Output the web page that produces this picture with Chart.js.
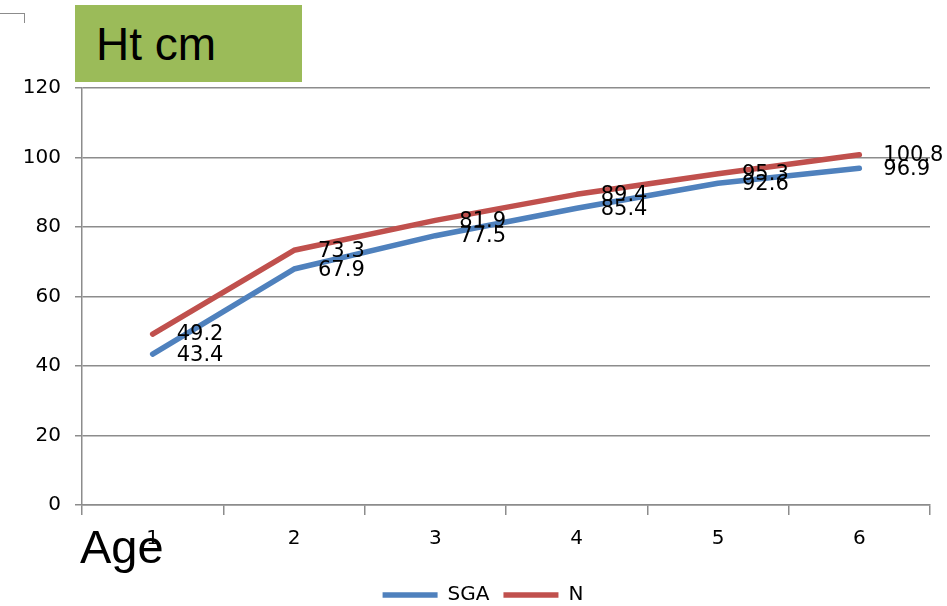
<!DOCTYPE html>
<html>
<head>
<meta charset="utf-8">
<script src="https://cdn.jsdelivr.net/npm/chart.js@4/dist/chart.umd.min.js"></script>
<style>
  html, body { margin: 0; padding: 0; background: #fff; }
  #wrap { position: relative; width: 947px; height: 606px; }
  #chart { position: absolute; left: 0; top: 0; }
  #title {
    position: absolute; left: 75px; top: 5px; width: 227px; height: 77px;
    background: #9BBB59; box-sizing: border-box; padding-left: 21px;
    font-family: "Liberation Sans", Arial, sans-serif; font-size: 46px;
    line-height: 79px; color: #000;
  }
  #age {
    position: absolute; left: 80px; top: 520px;
    font-family: "Liberation Sans", Arial, sans-serif; font-size: 47px;
    line-height: 54px; color: #000;
  }
  #corner {
    position: absolute; left: 0; top: 13px; width: 24px; height: 9px;
    border-top: 1.5px solid #8c8c8c; border-right: 1.5px solid #8c8c8c;
  }
</style>
</head>
<body>
<div id="wrap">
  <canvas id="chart" width="947" height="606"></canvas>
  <div id="corner"></div>
  <div id="title">Ht cm</div>
  <div id="age">Age</div>
</div>
<script>
// Height (cm) by age
const ages = ['1', '2', '3', '4', '5', '6'];
const sgaHeight = [43.4, 67.9, 77.5, 85.4, 92.6, 96.9];
const nHeight = [49.2, 73.3, 81.9, 89.4, 95.3, 100.8];
const yTicks = [0, 20, 40, 60, 80, 100, 120];

const FONT = '"DejaVu Sans", sans-serif';
const GRID = '#8c8c8c';

// Writes each point's value to the right of the point
const valueLabels = {
  id: 'valueLabels',
  afterDatasetsDraw(chart) {
    const ctx = chart.ctx;
    ctx.save();
    ctx.font = '21px ' + FONT;
    ctx.fillStyle = '#000';
    ctx.textAlign = 'left';
    ctx.textBaseline = 'middle';
    chart.data.datasets.forEach((ds, di) => {
      const meta = chart.getDatasetMeta(di);
      meta.data.forEach((pt, i) => {
        ctx.fillText(ds.data[i].toFixed(1), pt.x + 24, pt.y + 1);
      });
    });
    ctx.restore();
  }
};

// Nudges the legend row so it sits under the middle of the plot
const legendShift = {
  id: 'legendShift',
  afterLayout(chart) {
    if (chart.legend) {
      chart.legend.left += 18;
      chart.legend.right += 18;
    }
  }
};

new Chart(document.getElementById('chart'), {
  type: 'line',
  data: {
    labels: ages,
    datasets: [
      {
        label: 'SGA', data: sgaHeight,
        borderColor: '#4F81BD', backgroundColor: '#4F81BD',
        borderWidth: 5.5, pointRadius: 0, tension: 0, fill: false,
        borderCapStyle: 'round', borderJoinStyle: 'round'
      },
      {
        label: 'N', data: nHeight,
        borderColor: '#C0504D', backgroundColor: '#C0504D',
        borderWidth: 5.5, pointRadius: 0, tension: 0, fill: false,
        borderCapStyle: 'round', borderJoinStyle: 'round'
      }
    ]
  },
  options: {
    responsive: false,
    animation: false,
    layout: { padding: { top: 88, right: 17, left: 0, bottom: -9 } },
    plugins: {
      title: { display: false },
      tooltip: { enabled: false },
      legend: {
        position: 'bottom',
        labels: {
          usePointStyle: true,
          pointStyle: 'line',
          pointStyleWidth: 55,
          padding: 14,
          color: '#000',
          font: { family: FONT, size: 20 }
        }
      }
    },
    scales: {
      x: {
        offset: true,
        grid: { drawOnChartArea: false, drawTicks: true, tickLength: 10, color: GRID, lineWidth: 1.5, offset: true },
        border: { color: GRID, width: 1.5 },
        ticks: { color: '#000', font: { family: FONT, size: 20 }, padding: 12, maxRotation: 0 },
        afterFit(scale) { scale.height = 66; }
      },
      y: {
        min: 0, max: 120,
        afterBuildTicks(scale) { scale.ticks = yTicks.map(v => ({ value: v })); },
        grid: { color: GRID, lineWidth: 1.5, tickLength: 7 },
        border: { color: GRID, width: 1.5 },
        ticks: { color: '#000', font: { family: FONT, size: 20 }, padding: 14 },
        afterFit(scale) { scale.width = 82; }
      }
    }
  },
  plugins: [valueLabels, legendShift]
});
</script>
</body>
</html>
